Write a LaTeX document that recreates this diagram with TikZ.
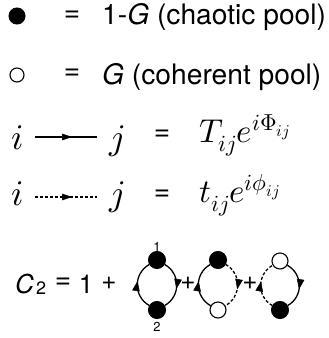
\documentclass[tikz,border=0pt]{standalone}
\usepackage{unicode-math}
\setmainfont{TeX Gyre Heros}
\setmathfont{Latin Modern Math}
\usetikzlibrary{arrows.meta,decorations.markings}
\begin{document}
\begin{tikzpicture}[x=1pt,y=1pt,
  fullpool/.style={circle,fill=black,draw=black,line width=1pt,inner sep=0pt,minimum size=17pt},
  emptypool/.style={circle,fill=white,draw=black,line width=1.1pt,inner sep=0pt,minimum size=16pt},
  bigtxt/.style={inner sep=0pt,font=\fontsize{28.2}{32}\selectfont},
  eqtxt/.style={inner sep=0pt,font=\fontsize{28}{32}\selectfont},
  ctxt/.style={inner sep=0pt,font=\fontsize{26}{30}\selectfont},
  mathbig/.style={inner sep=0pt,font=\fontsize{36}{40}\selectfont},
  mathmid/.style={inner sep=0pt,font=\fontsize{33}{36}\selectfont},
  lbl/.style={inner sep=0pt,font=\fontsize{13}{15}\selectfont},
  link/.style={line width=1.3pt},
  dlink/.style={line width=1.3pt,dash pattern=on 3pt off 2pt},
  midup/.style={postaction={decorate,decoration={markings,mark=at position 0.58 with {\arrow[line width=0.5pt]{Triangle[length=10pt,width=7.5pt]}}}}},
  hhead/.style={postaction={decorate,decoration={markings,mark=at position 0.6 with {\arrow[line width=0.5pt]{Triangle[length=10pt,width=6.5pt]}}}}}
]
\useasboundingbox (0,0) rectangle (329,338);
% legend rows 1-2
\node[fullpool,minimum size=16pt] (f0) at (17,322) {};
\node[eqtxt] (eq1) at (72,322) {=};
\node[bigtxt,anchor=base west] (t1) at (102,313) {1-\textit{G} (chaotic pool)};
\node[emptypool,minimum size=14pt] (e0) at (17,263) {};
\node[eqtxt] (eq2) at (72,264) {=};
\node[bigtxt,anchor=base west] (t2) at (102,253) {\textit{G} (coherent pool)};
% row 3
\node[mathbig,anchor=base] (i3) at (18,188) {$i$};
\node[mathbig,anchor=base] (j3) at (117,188) {$j$};
\coordinate (a3s) at (35,201);
\coordinate (a3e) at (97,201);
\draw[link,hhead] (a3s) -- (a3e);
\node[eqtxt] (eq3) at (162,203) {=};
\node[mathmid,anchor=base west] (T3) at (199,195) {$T_{ij}e^{i\Phi_{ij}}$};
% row 4
\node[mathbig,anchor=base] (i4) at (18,132) {$i$};
\node[mathbig,anchor=base] (j4) at (117,132) {$j$};
\coordinate (a4s) at (35,141);
\coordinate (a4e) at (97,141);
\draw[dlink,hhead] (a4s) -- (a4e);
\node[eqtxt] (eq4) at (162,143) {=};
\node[mathmid,anchor=base west] (T4) at (199,135) {$t_{ij}e^{i\phi_{ij}}$};
% C2 row
\node[ctxt,anchor=base west] (c2) at (15,45) {\textit{C}};
\node[inner sep=0pt,font=\fontsize{18}{22}\selectfont,anchor=base west] (c2s) at (36,43) {2};
\node[eqtxt] (c2eq) at (63,55) {=};
\node[ctxt,anchor=base] (c2one) at (86,45) {1};
\node[ctxt] (c2p) at (109,55) {+};
% loop 1
\node[fullpool] (top1) at (157,78) {};
\node[fullpool] (bot1) at (157,28) {};
\node[lbl] (l1) at (157,91) {1};
\node[lbl] (l2) at (157,11) {2};
\draw[link,midup] (bot1) to[out=150,in=210,looseness=1.15] (top1);
\draw[link,midup] (top1) to[out=-30,in=30,looseness=1.15] (bot1);
\node[ctxt] (p1) at (188,55) {+};
% loop 2
\node[fullpool] (top2) at (218,78) {};
\node[emptypool] (bot2) at (218,28) {};
\draw[link,midup] (bot2) to[out=150,in=210,looseness=1.15] (top2);
\draw[dlink,midup] (top2) to[out=-30,in=30,looseness=1.15] (bot2);
\node[ctxt] (p2) at (250,55) {+};
% loop 3
\node[emptypool] (top3) at (280,77) {};
\node[fullpool] (bot3) at (280,28) {};
\draw[dlink,midup] (bot3) to[out=150,in=210,looseness=1.15] (top3);
\draw[link,midup] (top3) to[out=-30,in=30,looseness=1.15] (bot3);
\end{tikzpicture}
\end{document}
